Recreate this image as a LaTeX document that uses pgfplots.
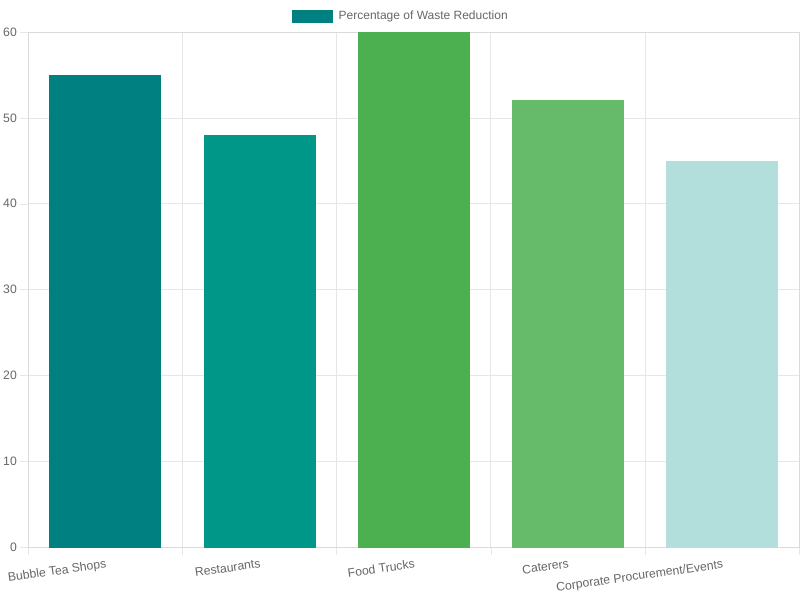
\documentclass[border=0pt]{standalone}
\usepackage{fontspec}
\setmainfont{Liberation Sans}
\usepackage{pgfplots}
\pgfplotsset{compat=1.18}
\definecolor{c1}{HTML}{008080}
\definecolor{c2}{HTML}{009688}
\definecolor{c3}{HTML}{4CAF50}
\definecolor{c4}{HTML}{66BB6A}
\definecolor{c5}{HTML}{B2DFDB}
\definecolor{txt}{HTML}{666666}
\definecolor{grd}{HTML}{E6E6E6}
\definecolor{axl}{HTML}{DADADA}
\begin{document}
\begin{tikzpicture}
\useasboundingbox (0,0) rectangle (800pt,600pt);
\begin{axis}[
    at={(28pt,53pt)}, anchor=south west,
    scale only axis, width=771pt, height=515pt,
    xmin=-0.5, xmax=4.5, ymin=0, ymax=60,
    ytick={0,10,...,60},
    xtick={0,...,4},
    xticklabels={Bubble Tea Shops, Restaurants, Food Trucks, Caterers, Corporate Procurement/Events},
    minor xtick={-0.5,0.5,...,4.5},
    ymajorgrids, xminorgrids,
    grid style={grd}, minor grid style={grd},
    axis line style={axl},
    tick align=outside, tickpos=left,
    major tick length=8pt, minor tick length=8pt,
    tick style={grd},
    major x tick style={draw=none},
    ticklabel style={font=\fontsize{12.2}{14}\selectfont, text=txt},
    /pgf/number format/assume math mode=true,
    xticklabel style={rotate=8, anchor=north east, inner sep=0pt, yshift=-4pt},
    yticklabel style={inner sep=0pt, xshift=-3pt},
    legend style={at={(axis description cs:0.4825,1)}, anchor=center, yshift=16pt,
        draw=none, fill=none, font=\fontsize{12}{14}\selectfont, text=txt,
        /tikz/every even column/.append style={column sep=0pt},
        nodes={inner xsep=0pt}},
    legend image code/.code={\fill[c1] (0pt,-6pt) rectangle (40pt,6pt); \path (46pt,0pt);},
]
\addplot[ybar, bar width=111pt, bar shift=0pt, fill=c1, draw=c1] coordinates {(0,55)};
\addlegendentry{Percentage of Waste Reduction}
\addplot[ybar, bar width=111pt, bar shift=0pt, fill=c2, draw=c2, forget plot] coordinates {(1,48)};
\addplot[ybar, bar width=111pt, bar shift=0pt, fill=c3, draw=c3, forget plot] coordinates {(2,60)};
\addplot[ybar, bar width=111pt, bar shift=0pt, fill=c4, draw=c4, forget plot] coordinates {(3,52)};
\addplot[ybar, bar width=111pt, bar shift=0pt, fill=c5, draw=c5, forget plot] coordinates {(4,45)};
\end{axis}
\end{tikzpicture}
\end{document}
